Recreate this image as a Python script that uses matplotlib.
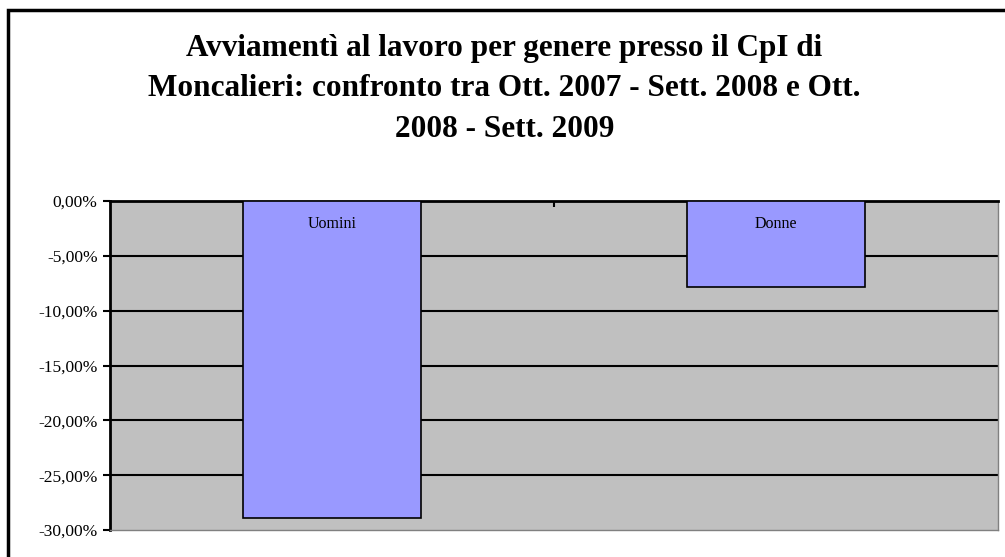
import matplotlib.pyplot as plt
from matplotlib.patches import Rectangle
from matplotlib.ticker import FuncFormatter

categories = ['Uomini', 'Donne']
values = [-28.9, -7.8]
yticks = [0, -5, -10, -15, -20, -25, -30]

plt.rcParams['font.family'] = ['Liberation Serif', 'DejaVu Serif']

fig = plt.figure(figsize=(10.05, 5.57), dpi=100)

# outer chart frame
fig.patches.append(Rectangle((8 / 1005, -0.1), 1.2, 1.1 - 10 / 557,
                             transform=fig.transFigure, fill=False,
                             edgecolor='black', linewidth=2.5, zorder=0))

fig.text(0.502, 1 - 89 / 557,
         'Avviamentì al lavoro per genere presso il CpI di\n'
         'Moncalieri: confronto tra Ott. 2007 - Sett. 2008 e Ott.\n'
         '2008 - Sett. 2009',
         ha='center', va='center', fontsize=22.5, fontweight='bold',
         linespacing=1.52)

ax = fig.add_axes([110 / 1005, 1 - 530 / 557, 888 / 1005, 329 / 557])
ax.set_facecolor('#C0C0C0')

x = range(len(categories))
bars = ax.bar(x, values, width=0.4, color='#9999FF', edgecolor='black',
              linewidth=1.2, zorder=3)
for i, name in enumerate(categories):
    ax.text(i, -2.1, name, ha='center', va='center', fontsize=11.5, zorder=4)

ax.set_xlim(-0.5, 1.5)
ax.set_ylim(-30, 0)
ax.set_yticks(yticks)
ax.yaxis.set_major_formatter(FuncFormatter(lambda v, p: ('%.2f%%' % v).replace('.', ',')))
ax.tick_params(axis='y', direction='out', length=5, width=1.5, labelsize=12.5, pad=4)
for v in yticks[1:-1]:
    ax.axhline(v, color='black', linewidth=1.5, zorder=1)

ax.xaxis.tick_top()
ax.set_xticks([0.5])
ax.set_xticklabels([])
ax.tick_params(axis='x', direction='in', length=4, width=1.5)

ax.spines['top'].set_linewidth(2)
ax.spines['left'].set_linewidth(2)
ax.spines['right'].set_color('#808080')
ax.spines['right'].set_linewidth(1)
ax.spines['bottom'].set_color('#808080')
ax.spines['bottom'].set_linewidth(1)

fig.savefig('out.png', dpi=100)
